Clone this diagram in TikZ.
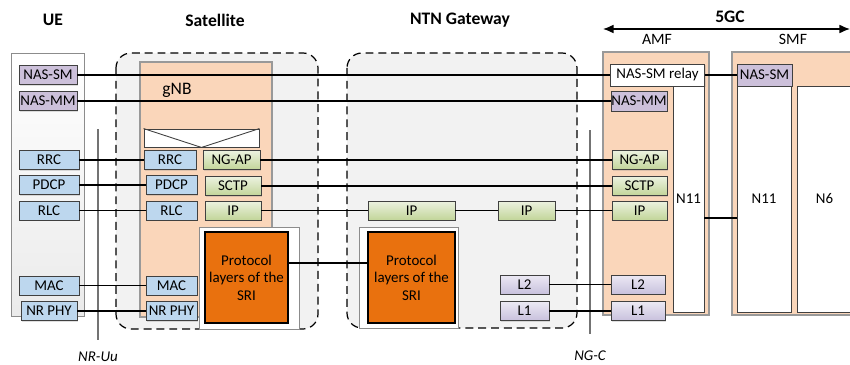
\documentclass[tikz,border=0pt]{standalone}
\usepackage{fontspec}
\setmainfont{Carlito}
\usetikzlibrary{shadows,arrows.meta}

\definecolor{nasviolet}{RGB}{204,192,218}
\definecolor{ranblue}{RGB}{189,215,238}
\definecolor{tnltop}{RGB}{236,242,224}
\definecolor{tnlbottom}{RGB}{194,213,153}
\definecolor{lowtop}{RGB}{236,233,244}
\definecolor{lowbottom}{RGB}{200,193,221}
\definecolor{nfpeach}{RGB}{250,214,186}
\definecolor{sriorange}{RGB}{233,113,14}
\definecolor{cloudgray}{RGB}{242,242,242}

\tikzset{
  layer/.style={draw=black!75, line width=0.5pt, inner sep=0pt, minimum height=0.38cm,
    font=\fontsize{8.5}{10}\selectfont,
    drop shadow={shadow xshift=0.7pt, shadow yshift=-0.7pt, opacity=0.25}},
  nas/.style={layer, fill=nasviolet},
  ran/.style={layer, fill=ranblue},
  tnl/.style={layer, top color=tnltop, bottom color=tnlbottom},
  low/.style={layer, top color=lowtop, bottom color=lowbottom},
  plain/.style={layer, fill=white},
  title/.style={font=\bfseries\fontsize{10}{12}\selectfont},
  cloud/.style={dashed, dash pattern=on 4.5pt off 2.8pt, line width=0.7pt, fill=cloudgray, rounded corners=0.3cm},
  nfbox/.style={fill=nfpeach, draw=black!40, line width=0.6pt},
  srihold/.style={fill=white, draw=black!45, line width=0.5pt,
    drop shadow={shadow xshift=0.7pt, shadow yshift=-0.7pt, opacity=0.25}},
  sri/.style={draw=black, line width=0.6pt, fill=sriorange, inner sep=0pt, align=center,
    minimum width=1.66cm, minimum height=1.82cm, font=\fontsize{8.5}{10}\selectfont},
  link/.style={line width=0.6pt},
  iface/.style={draw=black!55, line width=0.8pt}
}

\begin{document}
\begin{tikzpicture}[x=0.02cm, y=-0.02cm]
    \useasboundingbox (0,0) rectangle (850,365);

    %Titles
    \node[title] (t_ue) at (53,20) {UE};
    \node[title] (t_sat) at (215,20) {Satellite};
    \node[title] (t_gw) at (460,20) {NTN Gateway};
    \node[title] (t_core) at (730,17) {5GC};
    \draw[{Latex[length=6pt,width=5pt]}-{Latex[length=6pt,width=5pt]}, line width=0.7pt] (603,29) -- (850,29);
    \node[font=\fontsize{9}{11}\selectfont] (t_amf) at (657,39) {AMF};
    \node[font=\fontsize{9}{11}\selectfont] (t_smf) at (793,39) {SMF};

    %Containers
    \draw[draw=black!45, top color=white, bottom color=black!8,
      drop shadow={shadow xshift=0.8pt, shadow yshift=-0.8pt, opacity=0.25}] (11,53) rectangle (84,316);
    \draw[cloud] (116,53) rectangle (318,329);
    \draw[cloud] (347,53) rectangle (577,328);
    \draw[nfbox] (140,62) rectangle (272,317);
    \draw[nfbox] (603,52) rectangle (709,315);
    \draw[nfbox] (732,52) rectangle (860,315);
    \node[font=\fontsize{10}{12}\selectfont] (gnb) at (177,90) {gNB};

    %Air interface and NG-C
    \draw[iface] (98,129) -- (98,340) node[below=3pt, font=\itshape\fontsize{8.5}{10}\selectfont] {NR-Uu};
    \draw[iface] (590,130) -- (590,334) node[below=6pt, font=\itshape\fontsize{8.5}{10}\selectfont] {NG-C};

    %UE stack
    \node[nas, minimum width=1.16cm] (ue_nassm) at (48,75) {NAS-SM};
    \node[nas, minimum width=1.16cm] (ue_nasmm) at (48,101) {NAS-MM};
    \node[ran, minimum width=1.2cm] (ue_rrc) at (49,160) {RRC};
    \node[ran, minimum width=1.2cm] (ue_pdcp) at (49,185) {PDCP};
    \node[ran, minimum width=1.2cm] (ue_rlc) at (49,210.5) {RLC};
    \node[ran, minimum width=1.2cm] (ue_mac) at (49,285.5) {MAC};
    \node[ran, minimum width=1.12cm] (ue_phy) at (49,311) {NR PHY};

    %gNB on the satellite
    \node[plain, minimum width=2.3cm, minimum height=0.36cm] (hdr) at (201.5,138) {};
    \draw[black!75, line width=0.5pt] (hdr.north west) -- (hdr.south) -- (hdr.north east);
    \node[ran, minimum width=1.04cm] (sat_rrc) at (170,160) {RRC};
    \node[tnl, minimum width=1.14cm] (sat_ngap) at (231.5,160) {NG-AP};
    \node[ran, minimum width=1.02cm] (sat_pdcp) at (171.5,185) {PDCP};
    \node[tnl, minimum width=1.12cm] (sat_sctp) at (233,186) {SCTP};
    \node[ran, minimum width=1.02cm] (sat_rlc) at (171.5,210.5) {RLC};
    \node[tnl, minimum width=1.12cm] (sat_ip) at (233,210.5) {IP};
    \node[ran, minimum width=1.02cm] (sat_mac) at (171.5,285.5) {MAC};
    \node[ran, minimum width=1.02cm] (sat_phy) at (171.5,311) {NR PHY};
    \draw[srihold] (199,227) rectangle (299,329);
    \node[sri] (sat_sri) at (246.5,277.5) {Protocol\\layers of the\\SRI};

    %NTN gateway
    \node[tnl, minimum width=1.74cm] (gw_ip1) at (411.5,210.5) {IP};
    \node[tnl, minimum width=1.14cm] (gw_ip2) at (526.5,210.5) {IP};
    \draw[srihold] (359,227) rectangle (458,328);
    \node[sri, minimum width=1.74cm] (gw_sri) at (411.5,277.5) {Protocol\\layers of the\\SRI};
    \node[low, minimum width=0.98cm] (gw_l2) at (524.5,284.5) {L2};
    \node[low, minimum width=0.98cm] (gw_l1) at (524.5,311) {L1};

    %AMF
    \node[plain, minimum width=1.88cm, minimum height=0.44cm] (amf_relay) at (657.5,75) {NAS-SM relay};
    \node[nas, minimum width=1.12cm, minimum height=0.4cm] (amf_nasmm) at (639,101) {NAS-MM};
    \node[plain, minimum width=0.62cm, minimum height=4.52cm] (amf_n11) at (688.5,199) {N11};
    \node[tnl, minimum width=1.1cm] (amf_ngap) at (639.5,160) {NG-AP};
    \node[tnl, minimum width=1.1cm] (amf_sctp) at (639.5,186) {SCTP};
    \node[tnl, minimum width=1.1cm] (amf_ip) at (639.5,210.5) {IP};
    \node[low, minimum width=1.08cm] (amf_l2) at (638,284.5) {L2};
    \node[low, minimum width=1.08cm] (amf_l1) at (638,311) {L1};

    %SMF
    \node[nas, minimum width=1.1cm, minimum height=0.44cm] (smf_nassm) at (764.5,75) {NAS-SM};
    \node[plain, minimum width=1.08cm, minimum height=4.52cm] (smf_n11) at (764,199) {N11};
    \node[plain, minimum width=1.1cm, minimum height=4.52cm] (smf_n6) at (824.5,199) {N6};

    %Peer links
    \draw[link] (ue_nassm) -- (amf_relay);
    \draw[link] (ue_nasmm) -- (amf_nasmm);
    \draw[link] (amf_relay) -- (smf_nassm);
    \draw[link] (ue_rrc) -- (sat_rrc);
    \draw[link] (sat_ngap) -- (amf_ngap);
    \draw[link] (ue_pdcp) -- (sat_pdcp);
    \draw[link] (sat_sctp) -- (amf_sctp);
    \draw[link] (ue_rlc) -- (sat_rlc);
    \draw[link] (sat_ip) -- (gw_ip1);
    \draw[link] (gw_ip1) -- (gw_ip2);
    \draw[link] (gw_ip2) -- (amf_ip);
    \draw[link] (ue_mac) -- (sat_mac);
    \draw[link] (ue_phy) -- (sat_phy);
    \draw[link] (gw_l2) -- (amf_l2);
    \draw[link] (gw_l1) -- (amf_l1);
    \coordinate (sri_lvl) at (0,263);
    \draw[link] (sat_sri.east |- sri_lvl) -- (gw_sri.west |- sri_lvl);
    \coordinate (n11_lvl) at (0,218);
    \draw[link] (amf_n11.east |- n11_lvl) -- (smf_n11.west |- n11_lvl);

\end{tikzpicture}
\end{document}
